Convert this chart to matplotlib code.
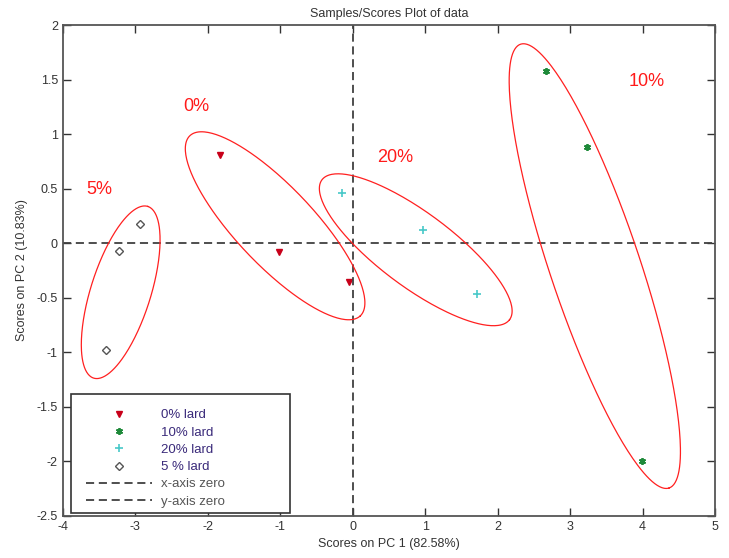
import numpy as np
import matplotlib.pyplot as plt
from matplotlib.lines import Line2D
from matplotlib.patches import Rectangle

plt.rcParams['font.family'] = ['Liberation Sans', 'DejaVu Sans']
plt.rcParams['axes.unicode_minus'] = False

# scores on PC1 / PC2 for each lard level
pc1_0 = [-1.83, -1.01, -0.05]
pc2_0 = [0.81, -0.08, -0.36]
pc1_10 = [2.67, 3.23, 3.99]
pc2_10 = [1.58, 0.88, -2.00]
pc1_20 = [-0.15, 0.97, 1.72]
pc2_20 = [0.46, 0.12, -0.47]
pc1_5 = [-2.94, -3.23, -3.40]
pc2_5 = [0.18, -0.07, -0.98]

series_labels = ['0% lard', '10% lard', '20% lard', '5 % lard']

# group annotations: label, text position, ellipse centre (data), semi axes (px), angle (deg)
group_names = ['5%', '0%', '20%', '10%']
text_x = [-3.49, -2.16, 0.58, 4.06]
text_y = [0.49, 1.25, 0.79, 1.48]
ell_cx = [-3.20, -1.07, 0.87, 3.34]
ell_cy = [-0.45, 0.16, -0.06, -0.21]
ell_a = [90, 124, 117, 234]
ell_b = [30, 39, 37, 45]
ell_ang = [72.5, -46.6, -36.7, -71.5]

fig = plt.figure(figsize=(7.29, 5.58), dpi=100)
ax = fig.add_axes([0.086, 0.0758, 0.895, 0.879])
ax.set_xlim(-4, 5)
ax.set_ylim(-2.5, 2)

grey = '#404040'
dash = (0, (4.5, 2.6))

h0, = ax.plot(pc1_0, pc2_0, linestyle='none', marker='v', color='#c8001a', markersize=5)
h10, = ax.plot(pc1_10, pc2_10, linestyle='none', marker=(6, 2, 0), color='#1f8a3a',
               markersize=5, markeredgewidth=1.3)
h20, = ax.plot(pc1_20, pc2_20, linestyle='none', marker='+', color='#48c8c8',
               markersize=6, markeredgewidth=1.2)
h5, = ax.plot(pc1_5, pc2_5, linestyle='none', marker='D', markerfacecolor='none',
              markeredgecolor='#555555', markersize=4, markeredgewidth=1)

hx = ax.axhline(0, color=grey, lw=1.3, linestyle=dash)
hy = ax.axvline(0, color=grey, lw=1.3, linestyle=dash)

# ellipses drawn in screen proportions
fig.canvas.draw()
p0 = ax.transData.transform((0, 0))
p1 = ax.transData.transform((1, 1))
sx = p1[0] - p0[0]
sy = p1[1] - p0[1]
t = np.linspace(0, 2 * np.pi, 300)
for cx, cy, a, b, ang in zip(ell_cx, ell_cy, ell_a, ell_b, ell_ang):
    phi = np.radians(ang)
    ex = cx + (a * np.cos(t) * np.cos(phi) - b * np.sin(t) * np.sin(phi)) / sx
    ey = cy + (a * np.cos(t) * np.sin(phi) + b * np.sin(t) * np.cos(phi)) / sy
    ax.plot(ex, ey, color='#ff2020', lw=0.9)

for name, tx, ty in zip(group_names, text_x, text_y):
    ax.text(tx, ty, name, color='#ff1a1a', fontsize=13, ha='center', va='center')

ax.set_xticks(range(-4, 6))
ax.set_yticks(np.arange(-2.5, 2.01, 0.5))
ax.set_yticklabels(['-2.5', '-2', '-1.5', '-1', '-0.5', '0', '0.5', '1', '1.5', '2'])
ax.tick_params(direction='in', length=6, top=True, right=True, labelsize=9,
               colors='#333333', width=1)
for s in ax.spines.values():
    s.set_color('#555555')
    s.set_linewidth(1.3)

ax.set_title('Samples/Scores Plot of data', fontsize=9, color='#333333', pad=6)
ax.set_xlabel('Scores on PC 1 (82.58%)', fontsize=9, color='#333333', labelpad=4)
ax.set_ylabel('Scores on PC 2 (10.83%)', fontsize=9, color='#333333', labelpad=6)

# legend box drawn separately so the padding can be set freely
box = Rectangle((0.0127, 0.0055), 0.336, 0.2425, transform=ax.transAxes,
                facecolor='white', edgecolor='#333333', lw=1.2, zorder=4)
ax.add_patch(box)

leg_handles = [h0, h10, h20, h5,
               Line2D([], [], color=grey, lw=1.3, linestyle=dash),
               Line2D([], [], color=grey, lw=1.3, linestyle=dash)]
leg_labels = series_labels + ['x-axis zero', 'y-axis zero']
leg = ax.legend(leg_handles, leg_labels, loc='upper left',
                bbox_to_anchor=(0.0127, 0.248), frameon=False,
                fontsize=9.5, handlelength=5, handletextpad=0.7, labelspacing=0.38,
                borderpad=1.15, borderaxespad=0)
leg.set_zorder(5)
for txt in leg.get_texts():
    txt.set_color('#3a2a7a')
leg.get_texts()[4].set_color('#555555')
leg.get_texts()[5].set_color('#555555')

fig.savefig('out.png', dpi=100)
